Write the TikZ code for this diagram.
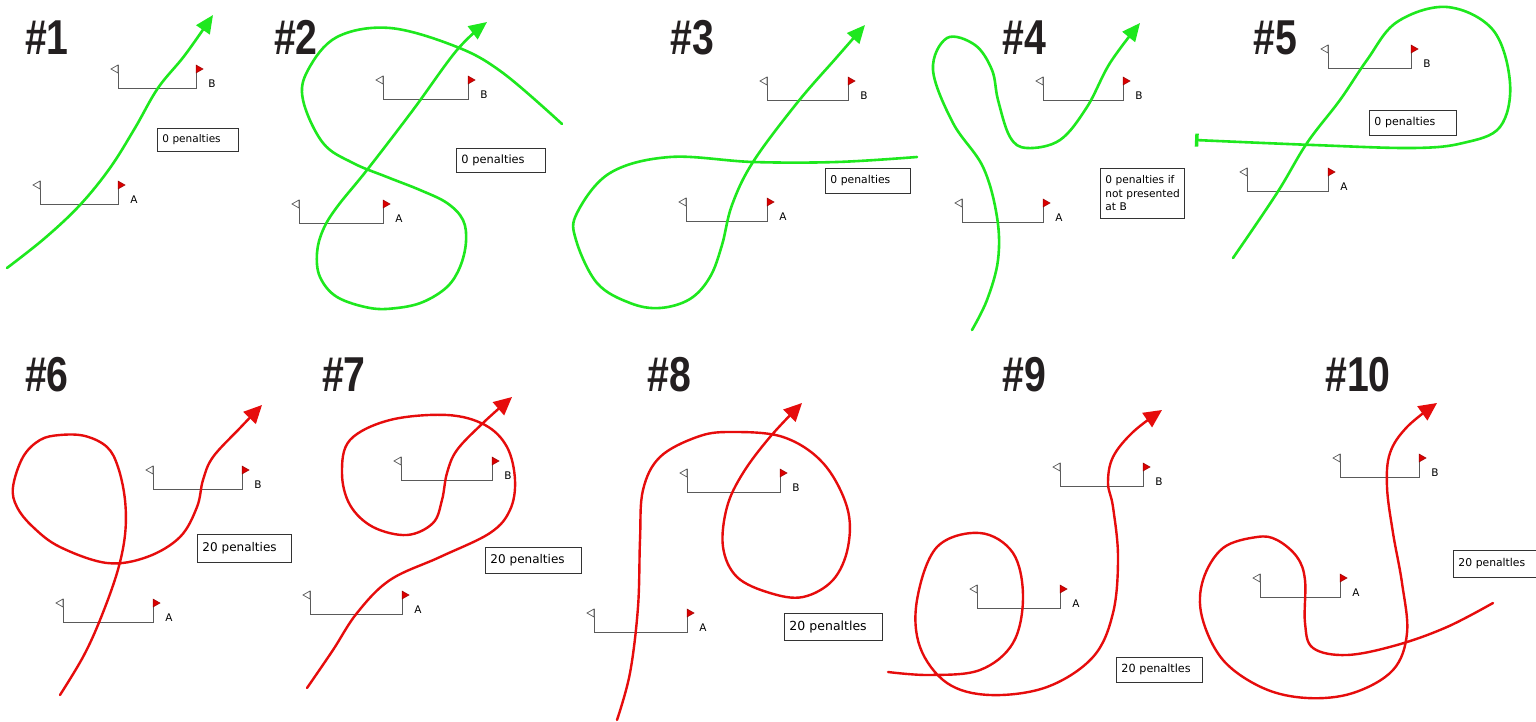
\documentclass[tikz,border=0pt]{standalone}
\usepackage{fontspec}
\usetikzlibrary{arrows.meta}
\newfontfamily\vfont{DejaVu Sans}
\newfontfamily\tfont{Liberation Sans}
\hyphenpenalty=10000
\exhyphenpenalty=10000
\definecolor{pathgreen}{RGB}{30,232,30}
\definecolor{pathred}{RGB}{230,12,12}
\definecolor{flagred}{RGB}{220,0,0}
\definecolor{gategray}{RGB}{90,90,90}
\definecolor{titlecol}{RGB}{35,31,32}
\tikzset{
  gateline/.style={draw=gategray,line width=0.7pt},
  gatelabel/.style={font=\vfont\fontsize{10.5}{12}\selectfont,inner sep=0pt},
  title/.style={anchor=base west,inner sep=0pt,text=titlecol,font=\tfont\bfseries\fontsize{49}{50}\selectfont},
  pbox/.style={draw=black!80,line width=0.8pt,anchor=north west,inner xsep=2pt,inner ysep=0pt,align=left},
  gpath/.style={draw=pathgreen,line width=2.6pt,line cap=round},
  rpath/.style={draw=pathred,line width=2.4pt,line cap=round},
  garrow/.style={-{Triangle[length=18pt,width=16pt]}},
  rarrow/.style={-{Triangle[length=18pt,width=17pt]}},
}
\newcommand{\gate}[5]{%
  \draw[gateline] (#1,#3-23) -- (#1,#3) -- (#2,#3) -- (#2,#3-23);
  \draw[gateline,fill=white] (#1,#3-23) -- (#1-7,#3-19) -- (#1,#3-15) -- cycle;
  \draw[draw=red!60!black,line width=0.5pt,fill=flagred] (#2,#3-23) -- (#2+7,#3-19) -- (#2,#3-15) -- cycle;
  \node[gatelabel] (#5) at (#2+16,#3-4) {#4};
}
\newcommand{\pbox}[7]{% name, x, y, w, h, size, text
  \node[pbox,text width=#4pt-4pt,minimum height=#5pt,font=\vfont\fontsize{#6}{13.5}\selectfont] (#1) at (#2,#3) {\hspace*{3pt}#7};
}
\begin{document}
\begin{tikzpicture}[x=1pt,y=-1pt]
\useasboundingbox (0,0) rectangle (1536,722);
\fill[white] (0,0) rectangle (1536,722);

% titles
\node[title] (t1) at (25,55) {\scalebox{0.8}[1]{\#1}};
\node[title] (t2) at (274,55) {\scalebox{0.8}[1]{\#2}};
\node[title] (t3) at (670,55) {\scalebox{0.8}[1]{\#3}};
\node[title] (t4) at (1002,55) {\scalebox{0.8}[1]{\#4}};
\node[title] (t5) at (1253,55) {\scalebox{0.8}[1]{\#5}};
\node[title] (t6) at (25,391) {\scalebox{0.8}[1]{\#6}};
\node[title] (t7) at (322,391) {\scalebox{0.8}[1]{\#7}};
\node[title] (t8) at (647,391) {\scalebox{0.8}[1]{\#8}};
\node[title] (t9) at (1002,391) {\scalebox{0.8}[1]{\#9}};
\node[title] (t10) at (1325,391) {\scalebox{0.8}[1]{\#10}};

% gates
\gate{118}{196}{88}{B}{b1}
\gate{40}{118}{204}{A}{a1}
\gate{383}{468}{99}{B}{b2}
\gate{299}{383}{223}{A}{a2}
\gate{767}{848}{100}{B}{b3}
\gate{686}{767}{221}{A}{a3}
\gate{1043}{1123}{100}{B}{b4}
\gate{962}{1043}{222}{A}{a4}
\gate{1328}{1411}{68}{B}{b5}
\gate{1247}{1328}{191}{A}{a5}
\gate{153}{242}{489}{B}{b6}
\gate{63}{153}{622}{A}{a6}
\gate{401}{492}{480}{B}{b7}
\gate{310}{402}{614}{A}{a7}
\gate{687}{780}{492}{B}{b8}
\gate{594}{687}{632}{A}{a8}
\gate{1060}{1143}{486}{B}{b9}
\gate{977}{1060}{608}{A}{a9}
\gate{1340}{1419}{477}{B}{b10}
\gate{1260}{1340}{597}{A}{a10}

% boxes
\pbox{p1}{157}{128}{81}{23}{10.5}{0 penalties}
\pbox{p2}{456}{148}{89}{24}{11.4}{0 penalties}
\pbox{p3}{825}{168}{85}{25}{10.8}{0 penalties}
\pbox{p4}{1100}{168}{84}{50}{10.6}{0 penalties if\\\hspace*{3pt}not presented\\\hspace*{3pt}at B}
\pbox{p5}{1369}{110}{87}{25}{11}{0 penalties}
\pbox{p6}{197}{534}{94}{28}{12}{20 penalties}
\pbox{p7}{485}{547}{96}{26}{12}{20 penalties}
\pbox{p8}{784}{613}{98}{27}{12.5}{20 penaltles}
\pbox{p9}{1116}{657}{86}{25}{11.2}{20 penaltles}
\pbox{p10}{1453}{550}{96}{27}{10.8}{20 penaltles}

% green paths
\draw[gpath,garrow] plot[smooth,tension=0.6] coordinates {(7,268) (45,238) (80,205) (110,168) (135,128) (158,88) (185,55) (213,15)};
\draw[gpath,garrow] plot[smooth,tension=0.6] coordinates {(562,124) (503,73) (457,47) (390,28) (337,37) (308,70) (303,100) (323,143) (353,163) (387,177) (420,190) (447,203) (463,220) (466,242) (460,267) (447,287) (423,302) (397,308) (370,308) (337,297) (320,277) (317,253) (323,230) (337,207) (367,170) (413,110) (457,50) (487,22)};
\draw[gpath,garrow] plot[smooth,tension=0.6] coordinates {(917,157) (837,162) (753,162) (670,157) (610,173) (577,213) (576,240) (597,283) (630,303) (660,308) (690,299) (710,277) (722,245) (732,205) (753,162) (797,103) (837,57) (865,25)};
\draw[gpath,garrow] plot[smooth,tension=0.6] coordinates {(972,330) (987,300) (998,260) (997,217) (983,167) (953,123) (933,70) (947,38) (975,45) (992,70) (998,100) (1010,137) (1027,148) (1060,140) (1087,107) (1110,63) (1140,23)};
\draw[gpath,-{Bar[width=13pt,line width=3.5pt]}] plot[smooth,tension=0.6] coordinates {(1233,258) (1277,193) (1307,143) (1340,100) (1367,60) (1397,22) (1447,7) (1493,30) (1510,83) (1500,127) (1463,143) (1413,148) (1313,145) (1195,140)};

% red paths
\draw[rpath,rarrow] plot[smooth,tension=0.6] coordinates {(60,695) (83,657) (100,620) (117,573) (125,535) (125,500) (118,467) (107,447) (85,436) (60,435) (40,440) (23,457) (13,487) (17,507) (33,527) (60,547) (107,563) (147,557) (180,537) (197,507) (203,480) (213,457) (240,428) (262,405)};
\draw[rpath,rarrow] plot[smooth,tension=0.6] coordinates {(307,688) (333,650) (357,613) (390,580) (440,557) (490,533) (510,510) (515,480) (507,447) (485,425) (447,415) (390,420) (350,440) (342,473) (350,505) (373,527) (407,535) (433,523) (442,500) (447,473) (457,450) (483,423) (512,397)};
\draw[rpath,rarrow] plot[smooth,tension=0.6] coordinates {(617,720) (630,673) (638,607) (640,540) (643,490) (660,457) (697,437) (730,432) (783,437) (823,463) (847,507) (848,547) (833,580) (803,597) (770,593) (737,577) (723,547) (727,507) (743,473) (770,437) (802,403)};
\draw[rpath,rarrow] plot[smooth,tension=0.6] coordinates {(888,672) (930,675) (980,670) (1013,643) (1023,597) (1013,553) (980,533) (937,547) (917,600) (920,647) (947,683) (990,695) (1047,687) (1093,657) (1113,613) (1118,557) (1113,507) (1108,483) (1113,457) (1133,432) (1162,410)};
\draw[rpath,rarrow] plot[smooth,tension=0.6] coordinates {(1493,603) (1447,627) (1397,645) (1347,655) (1313,648) (1305,623) (1305,580) (1297,557) (1277,540) (1257,537) (1223,548) (1203,580) (1202,617) (1223,660) (1263,688) (1307,698) (1353,693) (1393,670) (1407,633) (1402,583) (1393,533) (1387,487) (1390,453) (1407,427) (1437,403)};
\end{tikzpicture}
\end{document}
